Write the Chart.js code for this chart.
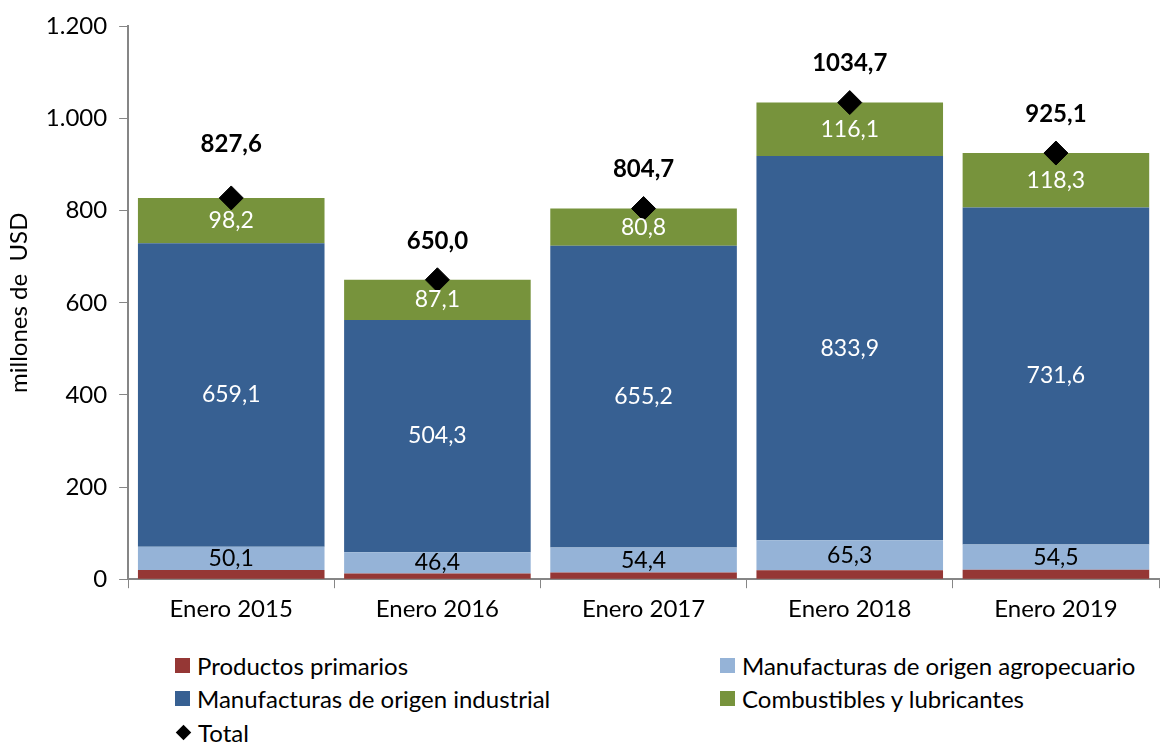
<!DOCTYPE html>
<html lang="es">
<head>
  <meta charset="UTF-8">
  <title>Exportaciones por grandes rubros</title>
  <script src="https://cdn.jsdelivr.net/npm/chart.js"></script>
  <style>
    body {
      margin: 0;
      padding: 0;
      background: #fff;
      overflow: hidden;
      font-family: Lato, "Noto Sans", sans-serif;
    }

    #wrap {
      position: relative;
      width: 1172px;
      height: 631px;
    }

    #legend {
      position: absolute;
      left: 0;
      top: 651px;
      width: 1160px;
      font-size: 24px;
      color: #000;
    }

    .item {
      position: absolute;
      display: flex;
      align-items: center;
      white-space: nowrap;
    }

    .box {
      width: 15px;
      height: 15px;
      margin-right: 7px;
    }

    .diamond {
      width: 11px;
      height: 11px;
      background: #000;
      transform: rotate(45deg);
      margin: 0 9px 0 3px;
    }
  </style>
</head>
<body>
  <div id="wrap">
    <canvas id="myChart"></canvas>
  </div>
  <div id="legend"></div>

  <script>
    const categories = ['Enero 2015', 'Enero 2016', 'Enero 2017', 'Enero 2018', 'Enero 2019'];
    const primarios = [20.2, 12.2, 14.3, 19.4, 20.7];
    const moa = [50.1, 46.4, 54.4, 65.3, 54.5];
    const moi = [659.1, 504.3, 655.2, 833.9, 731.6];
    const combustibles = [98.2, 87.1, 80.8, 116.1, 118.3];
    const totals = [827.6, 650.0, 804.7, 1034.7, 925.1];

    const fontFamily = 'Lato, "Noto Sans", sans-serif';

    function fmt(v) {
      return v.toFixed(1).replace('.', ',');
    }

    // draws the numbers inside segments and the totals above the diamonds
    const labelPlugin = {
      id: 'labels',
      afterDatasetsDraw(chart, args, opts) {
        const ctx = chart.ctx;
        ctx.save();
        ctx.textAlign = 'center';
        ctx.textBaseline = 'middle';
        chart.data.datasets.forEach(function(ds, i) {
          if (!ds.labelColor) return;
          const meta = chart.getDatasetMeta(i);
          meta.data.forEach(function(el, j) {
            ctx.fillStyle = ds.labelColor;
            if (ds.type === 'line') {
              ctx.font = 'bold 24px ' + fontFamily;
              ctx.fillText(fmt(ds.data[j]), el.x, el.y - opts.totalOffsets[j]);
            } else {
              ctx.font = '23px ' + fontFamily;
              ctx.fillText(fmt(ds.data[j]), el.x, (el.y + el.base) / 2);
            }
          });
        });
        ctx.restore();
      }
    };

    const ctx = document.getElementById('myChart').getContext('2d');
    const myChart = new Chart(ctx, {
      type: 'bar',
      data: {
        labels: categories,
        datasets: [
          {
            type: 'line',
            label: 'Total',
            data: totals,
            showLine: false,
            pointStyle: 'rectRot',
            pointRadius: 12,
            pointBackgroundColor: '#000',
            pointBorderColor: '#000',
            labelColor: '#000',
            order: 0
          },
          {
            label: 'Productos primarios',
            data: primarios,
            backgroundColor: '#953735',
            order: 1
          },
          {
            label: 'Manufacturas de origen agropecuario',
            data: moa,
            backgroundColor: '#95B3D7',
            labelColor: '#000',
            order: 1
          },
          {
            label: 'Manufacturas de origen industrial',
            data: moi,
            backgroundColor: '#376092',
            labelColor: '#fff',
            order: 1
          },
          {
            label: 'Combustibles y lubricantes',
            data: combustibles,
            backgroundColor: '#77933C',
            labelColor: '#fff',
            order: 1
          }
        ]
      },
      options: {
        responsive: true,
        maintainAspectRatio: false,
        animation: false,
        layout: {
          padding: { top: 13, left: 5, right: 0, bottom: 0 }
        },
        datasets: {
          bar: {
            barPercentage: 0.905,
            categoryPercentage: 1.0,
            borderWidth: 0
          }
        },
        plugins: {
          legend: { display: false },
          tooltip: { enabled: false },
          labels: {
            // first total label sits higher in the original
            totalOffsets: [54, 39, 39, 39, 39]
          }
        },
        scales: {
          x: {
            stacked: true,
            grid: {
              offset: true,
              drawOnChartArea: false,
              drawTicks: true,
              tickLength: 9,
              color: '#868686'
            },
            border: { color: '#868686', width: 2 },
            ticks: {
              color: '#000',
              font: { family: fontFamily, size: 24 },
              padding: 7
            }
          },
          y: {
            stacked: true,
            min: 0,
            max: 1200,
            grid: {
              drawOnChartArea: false,
              tickLength: 9,
              color: '#868686'
            },
            border: { color: '#868686', width: 2 },
            ticks: {
              stepSize: 200,
              color: '#000',
              font: { family: fontFamily, size: 24 },
              padding: 12,
              callback: function(v) {
                return v.toLocaleString('de-DE');
              }
            },
            title: {
              display: true,
              text: 'millones de  USD',
              color: '#000',
              font: { family: fontFamily, size: 24 },
              padding: { top: 0, bottom: 0 }
            }
          }
        }
      },
      plugins: [labelPlugin]
    });

    // legend laid out in two columns like the original
    const legendItems = [
      { text: 'Productos primarios', color: '#953735', left: 175, top: 0 },
      { text: 'Manufacturas de origen agropecuario', color: '#95B3D7', left: 720, top: 0 },
      { text: 'Manufacturas de origen industrial', color: '#376092', left: 175, top: 33 },
      { text: 'Combustibles y lubricantes', color: '#77933C', left: 720, top: 33 },
      { text: 'Total', diamond: true, left: 175, top: 67 }
    ];
    const legend = document.getElementById('legend');
    legendItems.forEach(function(it) {
      const d = document.createElement('div');
      d.className = 'item';
      d.style.left = it.left + 'px';
      d.style.top = it.top + 'px';
      const m = document.createElement('span');
      if (it.diamond) {
        m.className = 'diamond';
      } else {
        m.className = 'box';
        m.style.background = it.color;
      }
      d.appendChild(m);
      const t = document.createElement('span');
      t.textContent = it.text;
      d.appendChild(t);
      legend.appendChild(d);
    });
  </script>
</body>
</html>
